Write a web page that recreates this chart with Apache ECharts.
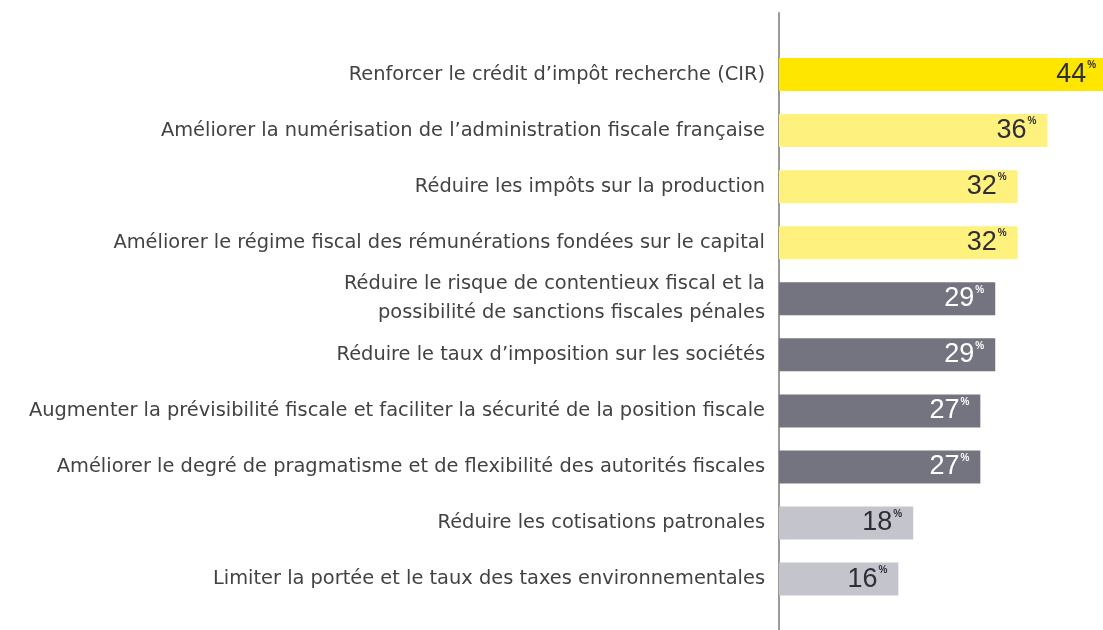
<!DOCTYPE html>
<html>
<head>
<meta charset="utf-8">
<script src="https://cdn.jsdelivr.net/npm/echarts@6/dist/echarts.min.js"></script>
<style>
  html, body { margin: 0; padding: 0; background: #fff; }
  #chart { width: 1103px; height: 630px; }
</style>
</head>
<body>
<div id="chart"></div>
<script>
// categories, top to bottom
var categories = [
    'Renforcer le crédit d\u2019impôt recherche (CIR)',
    'Améliorer la numérisation de l\u2019administration fiscale française',
    'Réduire les impôts sur la production',
    'Améliorer le régime fiscal des rémunérations fondées sur le capital',
    'Réduire le risque de contentieux fiscal et la\npossibilité de sanctions fiscales pénales',
    'Réduire le taux d\u2019imposition sur les sociétés',
    'Augmenter la prévisibilité fiscale et faciliter la sécurité de la position fiscale',
    'Améliorer le degré de pragmatisme et de flexibilité des autorités fiscales',
    'Réduire les cotisations patronales',
    'Limiter la portée et le taux des taxes environnementales'
];
var values = [44, 36, 32, 32, 29, 29, 27, 27, 18, 16];
// colour group of each bar
var groups = [0, 1, 1, 1, 2, 2, 2, 2, 3, 3];
var barColors = ['#ffe600', '#fff17d', '#747480', '#c4c4cd'];
var labelColors = ['#2e2e38', '#2e2e38', '#ffffff', '#2e2e38'];

var chart = echarts.init(document.getElementById('chart'));

var barData = values.map(function (v, i) {
    var g = groups[i];
    return {
        value: v,
        itemStyle: { color: barColors[g] },
        label: { color: labelColors[g] }
    };
});

var option = {
    animation: false,
    grid: [
        // the top bar runs past the right edge of the picture
        { left: 779, top: 46.5, right: 0, height: 560.6 },
        { left: 779, top: 13, width: 10, bottom: 0 }
    ],
    xAxis: [
        { gridIndex: 0, type: 'value', min: 0, max: 43.45, show: false },
        { gridIndex: 1, type: 'value', show: false }
    ],
    yAxis: [
        {
            gridIndex: 0,
            type: 'category',
            inverse: true,
            data: categories,
            axisLine: { show: false },
            axisTick: { show: false },
            axisLabel: {
                margin: 14,
                fontSize: 19.4,
                lineHeight: 29,
                color: '#424242',
                fontFamily: 'DejaVu Sans, sans-serif'
            }
        },
        {
            gridIndex: 1,
            type: 'category',
            data: [],
            axisLine: { show: true, lineStyle: { color: '#9a9a9a', width: 2 } },
            axisTick: { show: false },
            axisLabel: { show: false }
        }
    ],
    series: [
        {
            type: 'bar',
            xAxisIndex: 0,
            yAxisIndex: 0,
            barWidth: 33,
            clip: false,
            data: barData,
            label: {
                show: true,
                position: 'insideRight',
                distance: 11,
                formatter: function (p) {
                    return '{v|' + p.value + '}{p|%}';
                },
                rich: {
                    v: { fontSize: 27, fontFamily: 'Liberation Sans, Arial, sans-serif', lineHeight: 28 },
                    p: { fontSize: 10, fontWeight: 'bold', fontFamily: 'Liberation Sans, Arial, sans-serif', verticalAlign: 'top', lineHeight: 28, padding: [0, 0, 13, 1] }
                }
            }
        }
    ]
};

chart.setOption(option);
</script>
</body>
</html>
